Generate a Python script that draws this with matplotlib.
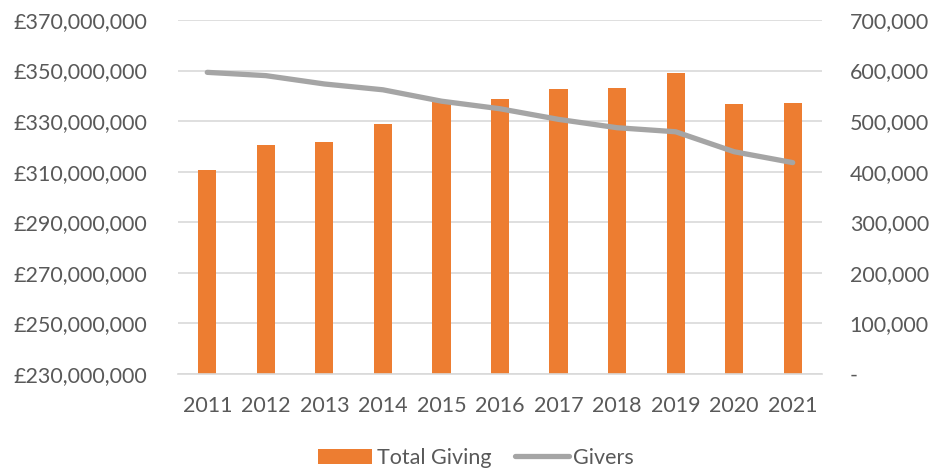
import matplotlib
matplotlib.use("Agg")
from matplotlib import pyplot as plt
from matplotlib.ticker import FuncFormatter

plt.rcParams['font.family'] = ['Lato', 'DejaVu Sans']

years = ["2011", "2012", "2013", "2014", "2015", "2016", "2017", "2018", "2019", "2020", "2021"]
total_giving = [310.5e6, 320.6e6, 321.8e6, 328.7e6, 337.8e6, 338.8e6, 342.7e6, 343.0e6, 349.2e6, 336.8e6, 337.2e6]
givers = [596500, 590000, 573500, 562000, 539500, 524500, 503500, 487000, 479000, 439500, 418000]

BAR = "#ED7D31"
LINE = "#A5A5A5"
TXT = "#595959"
GRID = "#D9D9D9"

fig = plt.figure(figsize=(9.34, 4.71), dpi=100)
ax = fig.add_axes([178/934, 1-374/471, 644/934, 354/471])
x = range(len(years))
ax.bar(x, total_giving, width=0.31, color=BAR, zorder=2, label="Total Giving")
ax.set_ylim(230e6, 370e6)
ax.set_yticks([230e6 + 20e6*i for i in range(8)])
ax.yaxis.set_major_formatter(FuncFormatter(lambda v, p: "£{:,.0f}".format(v)))
ax.set_xlim(-0.5, len(years)-0.5)
ax.set_xticks(list(x))
ax.set_xticklabels(years)
ax.grid(axis="y", color=GRID, linewidth=1.2, zorder=0)
for s in ["top", "left", "right"]:
    ax.spines[s].set_visible(False)
ax.spines["bottom"].set_color(GRID)
ax.spines["bottom"].set_linewidth(1.2)
ax.tick_params(axis="both", length=0, colors=TXT, labelsize=15.5)
ax.tick_params(axis="y", pad=22)
ax.tick_params(axis="x", pad=16)

ax2 = ax.twinx()
ax2.plot(list(x), givers, color=LINE, linewidth=3.8, solid_capstyle="round", zorder=3, label="Givers")
ax2.set_ylim(0, 700000)
ax2.set_yticks([100000*i for i in range(8)])
ax2.yaxis.set_major_formatter(FuncFormatter(lambda v, p: "-" if v == 0 else "{:,.0f}".format(v)))
for s in ["top", "left", "right", "bottom"]:
    ax2.spines[s].set_visible(False)
ax2.tick_params(axis="y", length=0, colors=TXT, labelsize=15.5, pad=20)

h1, l1 = ax.get_legend_handles_labels()
h2, l2 = ax2.get_legend_handles_labels()
fig.legend(h1+h2, l1+l2, loc="center", bbox_to_anchor=(476/934, 1-458/471), ncol=2,
           frameon=False, fontsize=15.5, labelcolor=TXT, handlelength=2.5,
           handletextpad=0.2, columnspacing=1.1)

fig.savefig("out.png", dpi=100)
